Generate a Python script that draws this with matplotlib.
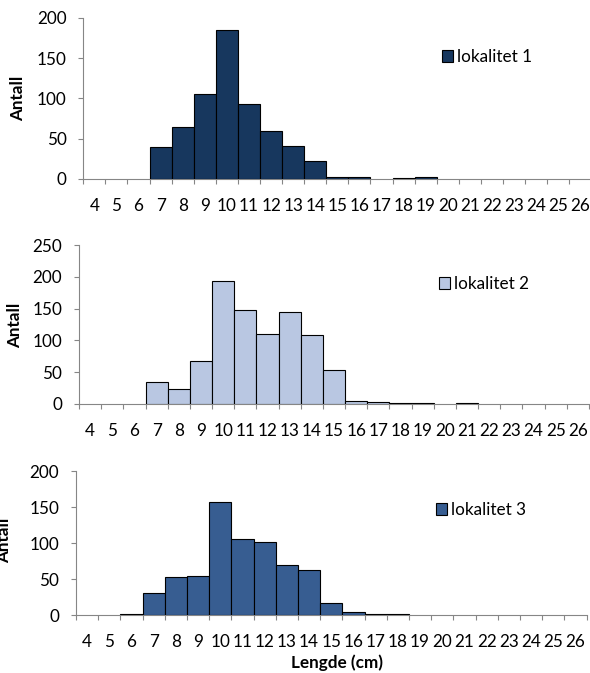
import matplotlib
matplotlib.use('Agg')
import matplotlib.pyplot as plt
from matplotlib.patches import Patch
import numpy as np

plt.rcParams['font.family'] = ['Lato', 'DejaVu Sans']

# ---------------- data ----------------
lengths = [4, 5, 6, 7, 8, 9, 10, 11, 12, 13, 14, 15, 16, 17, 18, 19, 20,
           21, 22, 23, 24, 25, 26]
counts_lok1 = [0, 0, 0, 39, 64, 106, 185, 93, 59, 41, 22, 2, 2, 0, 1, 2, 0,
               0, 0, 0, 0, 0, 0]
counts_lok2 = [0, 0, 0, 34, 23, 67, 194, 148, 110, 144, 108, 53, 5, 3, 2, 2, 0,
               1, 0, 0, 0, 0, 0]
counts_lok3 = [0, 0, 2, 30, 53, 54, 157, 105, 101, 70, 63, 16, 4, 2, 1, 0, 0,
               0, 0, 0, 0, 0, 0]
series_labels = ['lokalitet 1', 'lokalitet 2', 'lokalitet 3']
y_label = 'Antall'
x_label = 'Lengde (cm)'

# ---------------- layout ----------------
W, H = 590, 673
fig = plt.figure(figsize=(W / 100, H / 100), dpi=100)
GRAY = '#868686'
FS = 12.3
LFS = 12.3

panels = [
    dict(vals=counts_lok1, color='#17375E', label=series_labels[0],
         rect=(83.3, 591.4, 18.0, 178.7), ymax=200, yticks=[0, 50, 100, 150, 200],
         leg=(442, 57), ylab=(18.3, 98)),
    dict(vals=counts_lok2, color='#B9C7E2', label=series_labels[1],
         rect=(79.0, 589.0, 245.0, 404.0), ymax=250, yticks=[0, 50, 100, 150, 200, 250],
         leg=(439, 284), ylab=(15.5, 325)),
    dict(vals=counts_lok3, color='#375D91', label=series_labels[2],
         rect=(76.0, 586.6, 471.0, 615.0), ymax=200, yticks=[0, 50, 100, 150, 200],
         leg=(436, 510), ylab=(4.5, 540)),
]

n = len(lengths)
x = np.arange(n)

for p in panels:
    l, r, t, b = p['rect']
    ax = fig.add_axes([l / W, 1 - b / H, (r - l) / W, (b - t) / H])
    vals = p['vals']
    lw = [0.8 if v > 0 else 0.0 for v in vals]
    ax.bar(x, vals, width=1.0, color=p['color'], edgecolor='black',
           linewidth=lw, zorder=3)
    ax.set_xlim(-0.5, n - 0.5)
    ax.set_ylim(0, p['ymax'])
    for s in ('top', 'right'):
        ax.spines[s].set_visible(False)
    for s in ('left', 'bottom'):
        ax.spines[s].set_color(GRAY)
        ax.spines[s].set_linewidth(0.8)
    ax.set_xticks(x)
    ax.set_xticklabels([str(v) for v in lengths], fontsize=FS)
    ax.tick_params(axis='x', which='major', length=0, pad=14.0)
    ax.set_xticks(np.arange(-0.5, n + 0.5, 1.0), minor=True)
    ax.tick_params(axis='x', which='minor', length=3.6, width=0.8, color=GRAY,
                   direction='out')
    ax.set_yticks(p['yticks'])
    ax.set_yticklabels([str(v) for v in p['yticks']], fontsize=FS)
    ax.tick_params(axis='y', length=3.6, width=0.8, color=GRAY, pad=8.5,
                   direction='out')
    ax.patch.set_alpha(0)

    handle = Patch(facecolor=p['color'], edgecolor='black', linewidth=0.8,
                   label=p['label'])
    lx, ly = p['leg']
    ax.legend(handles=[handle], loc='center left',
              bbox_to_anchor=(lx / W, 1 - ly / H), bbox_transform=fig.transFigure,
              frameon=False, borderpad=0, borderaxespad=0, handlelength=0.65,
              handleheight=0.65, handletextpad=0.25, fontsize=FS)

    yx, yy = p['ylab']
    fig.text(yx / W, 1 - yy / H, y_label, rotation=90, fontweight='bold',
             ha='center', va='center', fontsize=LFS)

fig.text(337 / W, 1 - 663 / H, x_label, ha='center', va='center',
         fontweight='bold', fontsize=LFS)

fig.savefig('out.png', dpi=100)
